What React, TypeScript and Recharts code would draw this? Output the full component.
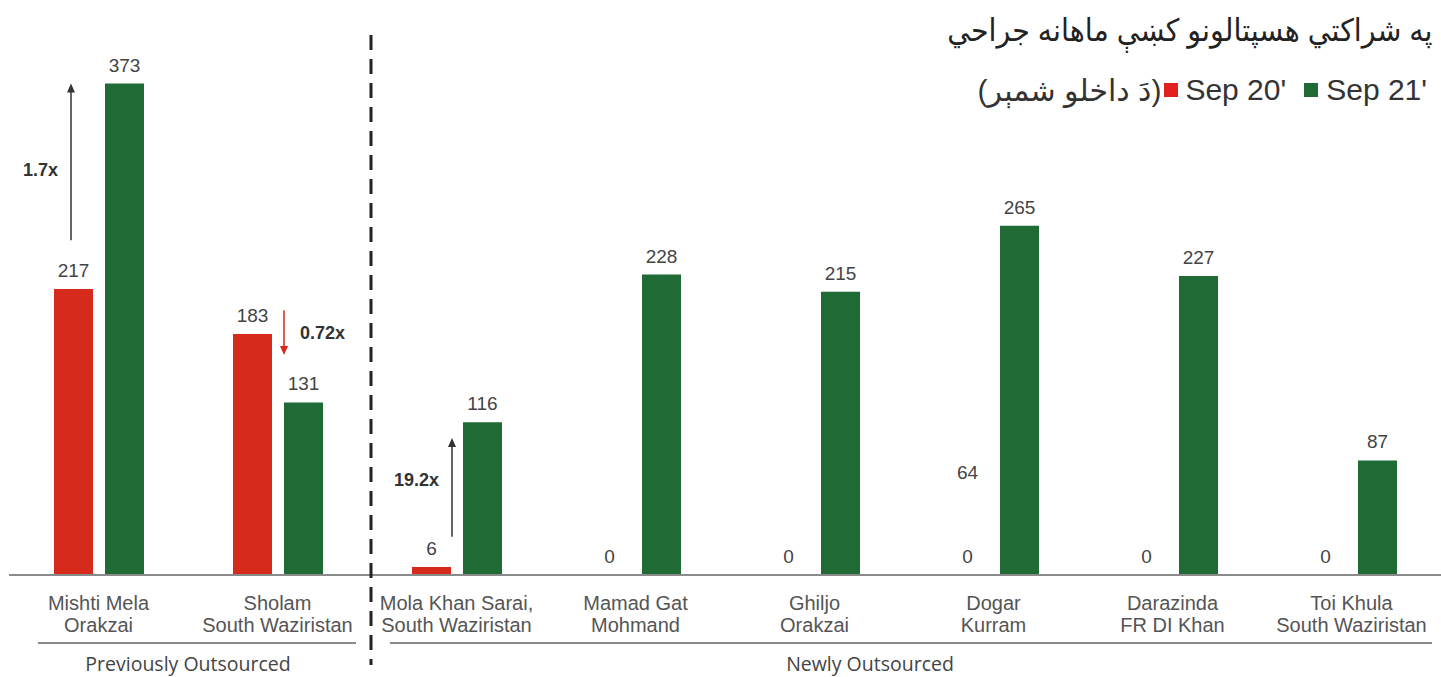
import { BarChart, Bar, XAxis, YAxis, LabelList, ReferenceLine, ReferenceDot } from 'recharts';

// hospital name (first tick line) and district (second tick line)
const hospitals = ['Mishti Mela', 'Sholam', 'Mola Khan Sarai,', 'Mamad Gat', 'Ghiljo', 'Dogar', 'Darazinda', 'Toi Khula'];
const regions = ['Orakzai', 'South Waziristan', 'South Waziristan', 'Mohmand', 'Orakzai', 'Kurram', 'FR DI Khan', 'South Waziristan'];

const sep20 = [217, 183, 6, 0, 0, 0, 0, 0];
const sep21 = [373, 131, 116, 228, 215, 265, 227, 87];

// growth arrows: from / to values on the y scale
const arrows = [
  { cat: 'Mishti Mela', from: 254, to: 373, text: '1.7x' },
  { cat: 'Sholam', from: 201, to: 167, text: '0.72x' },
  { cat: 'Mola Khan Sarai,', from: 29, to: 104, text: '19.2x' },
];

// stray number printed in the source picture
const strayLabels = [{ cat: 'Dogar', value: 78, text: '64' }];

const data = hospitals.map((name, i) => ({ name, region: regions[i], sep20: sep20[i], sep21: sep21[i] }));

const RED = '#d62a1c';
const GREEN = '#1f6a35';
const FONT = '"Liberation Sans", Arial, sans-serif';
const PASHTO = 'Arial, "DejaVu Sans", sans-serif';
const RED_DX = -26; // red bar centre relative to category centre

const arrowStyle: Record<string, { dx: number; color: string; side: 'left' | 'right'; dy: number }> = {
  '1.7x': { dx: -27.5, color: '#333', side: 'left', dy: 8 },
  '0.72x': { dx: 6.5, color: '#d9261c', side: 'right', dy: 0 },
  '19.2x': { dx: -4.5, color: '#333', side: 'left', dy: -7 },
};

function ArrowShape(props: any, text: string) {
  const { x1, y1, x2, y2 } = props;
  const st = arrowStyle[text];
  const x = (x1 + x2) / 2 + st.dx;
  const up = y2 < y1;
  const head = up
    ? `${x - 4},${y2 + 9} ${x + 4},${y2 + 9} ${x},${y2}`
    : `${x - 4},${y2 - 9} ${x + 4},${y2 - 9} ${x},${y2}`;
  const midY = (y1 + y2) / 2 + st.dy;
  return (
    <g>
      <line x1={x} y1={y1} x2={x} y2={up ? y2 + 8 : y2 - 8} stroke={st.color} strokeWidth={1.5} />
      <polygon points={head} fill={st.color} />
      <text
        x={st.side === 'left' ? x - 13 : x + 16}
        y={midY}
        textAnchor={st.side === 'left' ? 'end' : 'start'}
        dominantBaseline="central"
        fontFamily={FONT}
        fontWeight="bold"
        fontSize={18}
        fill="#333"
      >
        {text}
      </text>
    </g>
  );
}

const renderTick = (props: any) => {
  const { x, y, index } = props;
  return (
    <text x={x} y={y} textAnchor="middle" fontFamily={FONT} fontSize={20} fill="#555">
      <tspan x={x} dy={35}>{hospitals[index]}</tspan>
      <tspan x={x} dy={22}>{regions[index]}</tspan>
    </text>
  );
};

export default function App() {
  return (
    <div style={{ position: 'absolute', left: 0, top: 0, width: 1441, height: 677, background: '#fff' }}>
      <BarChart
        width={1441}
        height={677}
        data={data}
        margin={{ top: 48, right: 0, left: 9, bottom: 42 }}
        barGap={12}
      >
        <YAxis hide domain={[0, 400]} />
        <XAxis
          dataKey="name"
          height={60}
          tickLine={false}
          tickSize={0}
          tickMargin={0}
          interval={0}
          axisLine={{ stroke: '#8a8a8a', strokeWidth: 2 }}
          tick={renderTick}
        />
        <Bar dataKey="sep20" fill={RED} barSize={39} isAnimationActive={false}>
          <LabelList dataKey="sep20" position="top" offset={12} fill="#444" fontSize={19} fontFamily={FONT} />
        </Bar>
        <Bar dataKey="sep21" fill={GREEN} barSize={39} isAnimationActive={false}>
          <LabelList dataKey="sep21" position="top" offset={12} fill="#444" fontSize={19} fontFamily={FONT} />
        </Bar>
        {/* zero-height red bars still carry a "0" label */}
        {data
          .filter((d) => d.sep20 === 0)
          .map((d) => (
            <ReferenceDot
              key={'z' + d.name}
              x={d.name}
              y={d.sep20}
              r={0}
              shape={(p: any) => (
                <text x={p.cx + RED_DX} y={p.cy - 12} textAnchor="middle" fontFamily={FONT} fontSize={19} fill="#444">
                  {d.sep20}
                </text>
              )}
            />
          ))}
        {arrows.map((a) => (
          <ReferenceLine
            key={a.text}
            segment={[{ x: a.cat, y: a.from }, { x: a.cat, y: a.to }]}
            shape={(p: any) => ArrowShape(p, a.text)}
          />
        ))}
        {strayLabels.map((s) => (
          <ReferenceDot
            key={s.text}
            x={s.cat}
            y={s.value}
            r={0}
            shape={(p: any) => (
              <text x={p.cx + RED_DX} y={p.cy} textAnchor="middle" dominantBaseline="central" fontFamily={FONT} fontSize={19} fill="#444">
                {s.text}
              </text>
            )}
          />
        ))}
      </BarChart>

      {/* divider + group brackets */}
      <svg width={1441} height={677} style={{ position: 'absolute', left: 0, top: 0, pointerEvents: 'none' }}>
        <line x1={371} y1={35} x2={371} y2={665} stroke="#222" strokeWidth={3} strokeDasharray="15 9" />
        <line x1={38} y1={643} x2={356} y2={643} stroke="#8a8a8a" strokeWidth={2} />
        <line x1={390} y1={643} x2={1432} y2={643} stroke="#8a8a8a" strokeWidth={2} />
        <text x={188} y={663} textAnchor="middle" dominantBaseline="central" fontFamily='"Open Sans", sans-serif' fontSize={19.5} fill="#444">
          Previously Outsourced
        </text>
        <text x={870} y={663} textAnchor="middle" dominantBaseline="central" fontFamily='"Open Sans", sans-serif' fontSize={19.5} fill="#444">
          Newly Outsourced
        </text>
      </svg>

      {/* title + legend */}
      <div
        style={{
          position: 'absolute',
          right: 9,
          top: 8,
          direction: 'rtl',
          fontFamily: PASHTO,
          fontSize: 31,
          color: '#222',
          whiteSpace: 'nowrap',
          lineHeight: '46px',
          transform: 'scaleX(0.92)',
          transformOrigin: 'right center',
        }}
      >
        په شراکتي هسپتالونو کښې ماهانه جراحي
      </div>
      <div
        style={{
          position: 'absolute',
          right: 14,
          top: 70,
          display: 'flex',
          alignItems: 'center',
          direction: 'ltr',
          fontFamily: FONT,
          fontSize: 30,
          color: '#333',
          whiteSpace: 'nowrap',
          height: 40,
        }}
      >
        <span style={{ direction: 'rtl', fontFamily: PASHTO, fontSize: 30 }}>(دَ داخلو شمېر)</span>
        <span style={{ width: 14, height: 14, background: '#e0201e', marginLeft: 3, marginRight: 7 }} />
        <span>Sep 20'</span>
        <span style={{ width: 14, height: 14, background: GREEN, marginLeft: 18, marginRight: 8 }} />
        <span>Sep 21'</span>
      </div>
    </div>
  );
}
